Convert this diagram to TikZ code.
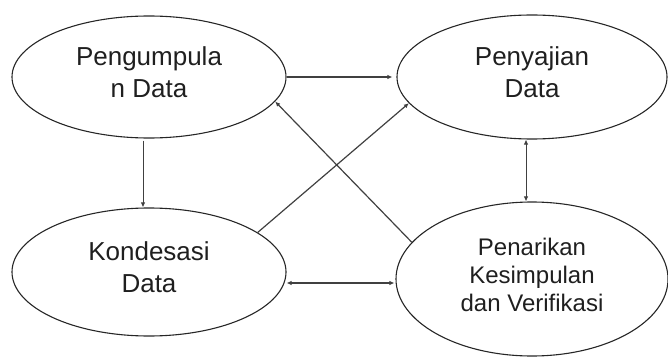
\documentclass[tikz,border=0pt]{standalone}
\usepackage{fontspec}
\setmainfont{Liberation Sans}
\usetikzlibrary{shapes.geometric, positioning, arrows.meta}

\begin{document}
\begin{tikzpicture}[x=1pt, y=-1pt, >={Latex[length=5pt,width=4.5pt]},
                    stage/.style={ellipse, draw=black!85, line width=1.1pt, align=center,
                      text=black!88, font=\fontsize{26}{32}\selectfont, inner sep=0pt, text depth=9pt},
                    link/.style={draw=black!75, line width=1.2pt}]

  \useasboundingbox (0,0) rectangle (668,358);

  \node[stage, minimum width=274pt, minimum height=122pt] (peng) at (149,77) {Pengumpula\\n Data};
  \node[stage, minimum width=270pt, minimum height=124pt] (peny) [right of=peng, node distance=383pt] {Penyajian\\Data};
  \node[stage, minimum width=274pt, minimum height=128pt] (kond) [below of=peng, node distance=195pt] {Kondesasi\\Data};
  \node[stage, minimum width=272pt, minimum height=154pt, font=\fontsize{24}{28}\selectfont] (pena)
       [below of=peny, node distance=202pt] {Penarikan\\Kesimpulan\\dan Verifikasi};

  \path[->]
    (peng.east) edge[link, line width=1.6pt, shorten >=4pt] (peng.east -| peny.west)
    ([xshift=-6pt]peng.south) edge[link, line width=0.9pt, shorten <=2pt] ([xshift=-6pt]kond.north)
    (kond.20) edge[link] (peny.192)
    (pena.163) edge[link] (peng.-11);
  \path[<->]
    ([xshift=-6pt]peny.south) edge[link, line width=0.9pt] ([xshift=-6pt]pena.north)
    ([yshift=-11pt]kond.east) edge[link, line width=1.6pt, shorten >=1pt] ([yshift=-11pt]kond.east -| pena.west);
\end{tikzpicture}
\end{document}
